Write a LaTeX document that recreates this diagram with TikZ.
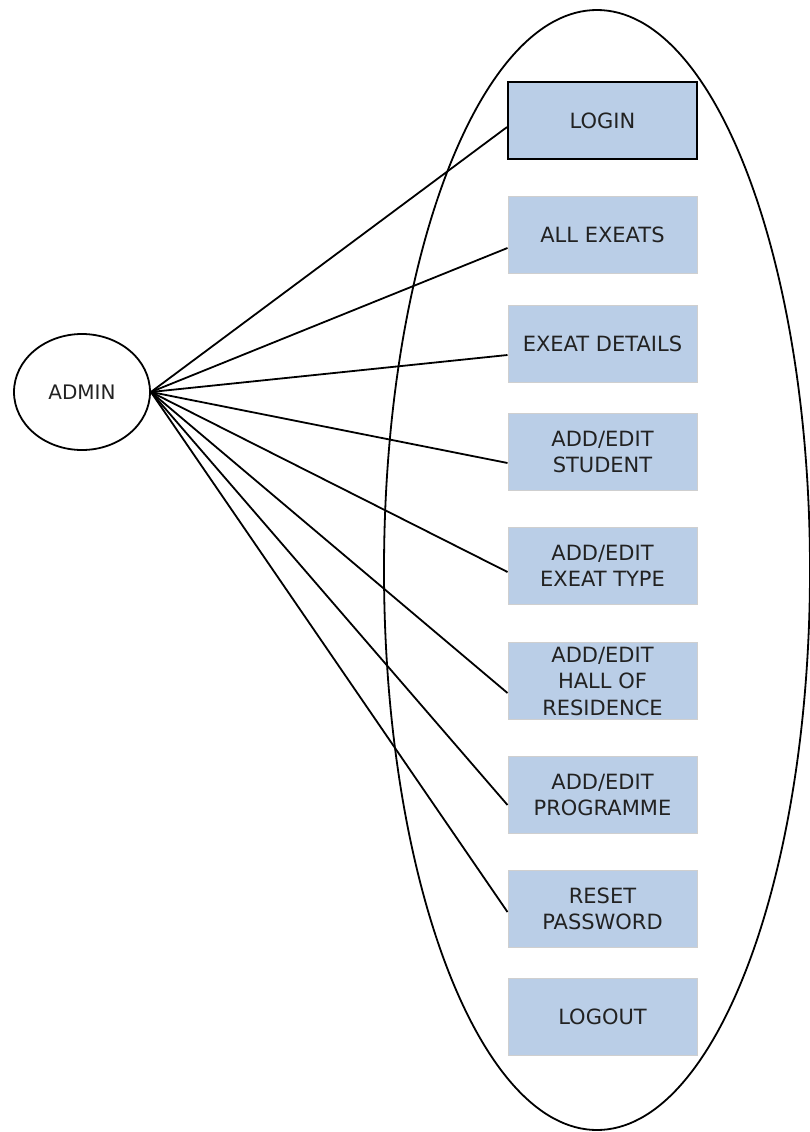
\documentclass[tikz,border=0pt]{standalone}
\usepackage{fontspec}
\setmainfont{DejaVu Sans}
\usetikzlibrary{shapes.geometric}
\definecolor{casefill}{HTML}{BACEE7}
\definecolor{caseedge}{HTML}{CFCFCF}
\definecolor{inkgray}{HTML}{222222}

\tikzset{
  usecase/.style={rectangle, fill=casefill, draw=caseedge, line width=1pt,
    minimum width=189pt, minimum height=77pt, inner sep=0pt,
    align=center, text=inkgray, font=\fontsize{21}{26.5}\selectfont},
  actor/.style={ellipse, draw, line width=1.8pt, minimum width=136pt,
    minimum height=116pt, inner sep=0pt, text=inkgray,
    font=\fontsize{20}{24}\selectfont},
  link/.style={line width=1.8pt}
}

\begin{document}
\begin{tikzpicture}[x=1pt, y=-1pt]
\useasboundingbox (0,0) rectangle (809,1132);

% System boundary
\draw[line width=1.8pt] (597,570) ellipse [x radius=213pt, y radius=560pt];

% Actor
\node[actor] (admin) at (82,392) {ADMIN};

% Use cases
\node[usecase, draw=black, line width=1.8pt] (login) at (602.5,120.5) {LOGIN};
\node[usecase] (allexeats) at (602.5,235) {ALL EXEATS};
\node[usecase] (details) at (602.5,344) {EXEAT DETAILS};
\node[usecase] (student) at (602.5,452) {ADD/EDIT\\STUDENT};
\node[usecase] (exeattype) at (602.5,566) {ADD/EDIT\\EXEAT TYPE};
\node[usecase] (hall) at (602.5,681) {ADD/EDIT\\HALL OF\\RESIDENCE};
\node[usecase] (programme) at (602.5,795) {ADD/EDIT\\PROGRAMME};
\node[usecase] (reset) at (602.5,909) {RESET\\PASSWORD};
\node[usecase] (logout) at (602.5,1017) {LOGOUT};

% Associations (end points sit a little below each box centre)
\foreach \uc/\dy in {login/6.5, allexeats/13, details/11, student/11,
                     exeattype/6, hall/12, programme/10, reset/3}
  \draw[link] (admin.east) -- ([yshift=-\dy pt]\uc.west);

\end{tikzpicture}
\end{document}
